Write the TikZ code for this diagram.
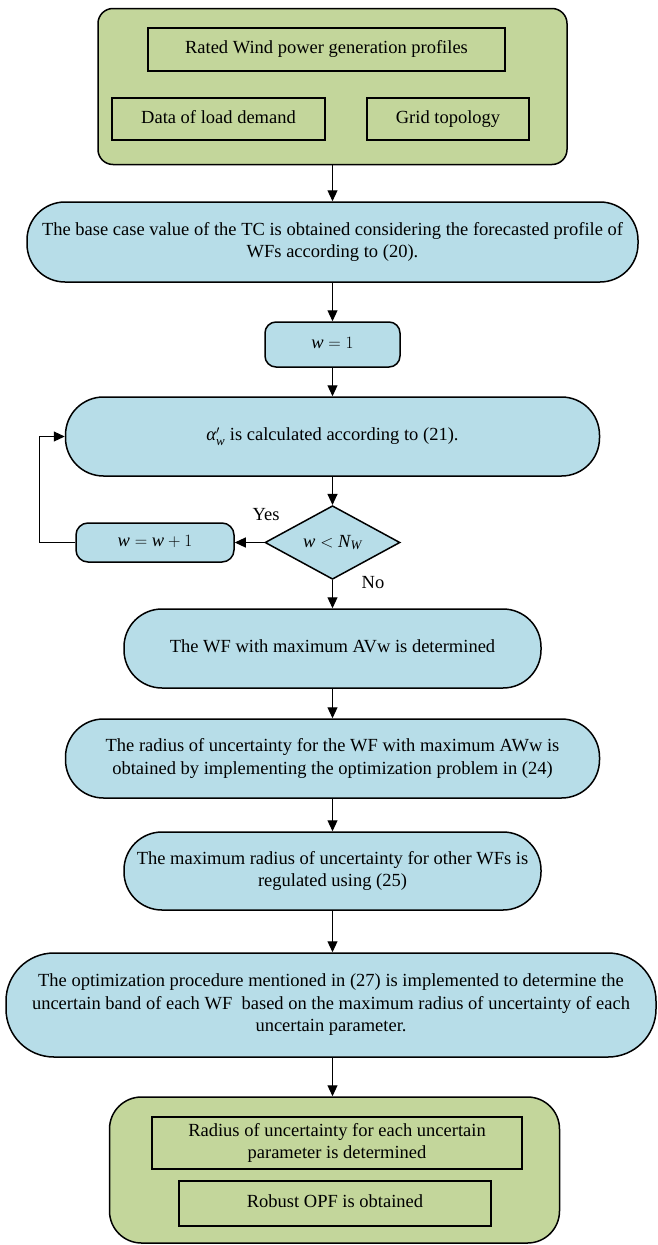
\documentclass[tikz,border=0pt]{standalone}
\usepackage{amsmath}
\usepackage{fontspec}
\setmainfont{Liberation Serif}
\usetikzlibrary{arrows.meta,shapes.geometric}
\definecolor{grn}{HTML}{C3D69B}
\definecolor{blu}{HTML}{B7DDE8}
\begin{document}
\begin{tikzpicture}[x=1pt,y=-1pt,
 every node/.style={font=\fontsize{18.5}{22.5}\selectfont},
 oneline/.style={text height=12.5pt, text depth=4pt},
 outerbox/.style={draw, line width=1.5pt, fill=grn, inner sep=0pt},
 innerbox/.style={draw, line width=1.2pt, align=center, inner sep=0pt},
 proc/.style={draw, line width=1.5pt, fill=blu, align=center, inner sep=0pt},
 arr/.style={line width=1.1pt, -{Triangle[length=11pt,width=10pt]}},
]
\useasboundingbox (0,0) rectangle (657,1245);
% top input block
\node[outerbox, rounded corners=15pt, minimum width=469pt, minimum height=156pt] (inp) at (332.5,86.5) {};
\node[innerbox, oneline, minimum width=357pt, minimum height=43pt] (rated) at (326.5,49.5) {Rated Wind power generation profiles};
\node[innerbox, oneline, minimum width=213pt, minimum height=42pt] (load) at (218.5,119) {Data of load demand};
\node[innerbox, oneline, minimum width=162pt, minimum height=42pt] (grid) at (448,119) {Grid topology};
% process boxes
\node[proc, rounded corners=38pt, minimum width=611pt, minimum height=80pt] (base) at (332.5,242) {The base case value of the TC is obtained considering the forecasted profile of\\WFs according to (20).};
\node[proc, oneline, rounded corners=11pt, minimum width=135pt, minimum height=45pt] (winit) at (332.5,344.5) {$\textit{w}=1$};
\node[proc, oneline, rounded corners=38pt, minimum width=534pt, minimum height=79pt] (alpha) at (332.5,436.5) {$\textit{α}'_{\textit{w}}$ is calculated according to (21).};
\node[proc, diamond, minimum width=135pt, minimum height=71pt] (dec) at (332.5,542.5) {$\textit{w}<\textit{N}_{\textit{W}}$};
\node[proc, oneline, rounded corners=12pt, minimum width=158pt, minimum height=39pt] (inc) at (155,542.5) {$\textit{w}=\textit{w}+1$};
\node[proc, oneline, rounded corners=38pt, minimum width=417pt, minimum height=79pt] (maxav) at (332.5,648.5) {The WF with maximum AVw is determined};
\node[proc, rounded corners=38pt, minimum width=534pt, minimum height=79pt] (radius) at (332.5,758.5) {The radius of uncertainty for the WF with maximum AWw is\\obtained by implementing the optimization problem in (24)};
\node[proc, rounded corners=38pt, minimum width=417pt, minimum height=78pt] (regul) at (332.5,871) {The maximum radius of uncertainty for other WFs is\\regulated using (25)};
\node[proc, rounded corners=48pt, minimum width=650pt, minimum height=104pt] (optim) at (331,1005) {The optimization procedure mentioned in (27) is implemented to determine the\\uncertain band of each WF\ \ based on the maximum radius of uncertainty of each\\uncertain parameter.};
% bottom output block
\node[outerbox, rounded corners=32pt, minimum width=450pt, minimum height=146pt] (outp) at (334.5,1170) {};
\node[innerbox, minimum width=370pt, minimum height=52pt] (res1) at (337,1143) {Radius of uncertainty for each uncertain\\parameter is determined};
\node[innerbox, oneline, minimum width=312pt, minimum height=45pt] (res2) at (335,1203.5) {Robust OPF is obtained};
% labels
\node (yes) at (266,515) {Yes};
\node (no) at (373,583) {No};
% connectors
\draw[arr] (inp.south) -- (base.north);
\draw[arr] (base.south) -- (winit.north);
\draw[arr] (winit.south) -- (alpha.north);
\draw[arr] (alpha.south) -- (dec.north);
\draw[arr] (dec.west) -- (inc.east);
\draw[arr] (inc.west) -- ++(-36,0) |- (alpha.west);
\draw[arr] (dec.south) -- (maxav.north);
\draw[arr] (maxav.south) -- (radius.north);
\draw[arr] (radius.south) -- (regul.north);
\draw[arr] (regul.south) -- (optim.north -| regul.south);
\draw[arr] (optim.south -| regul.south) -- (outp.north -| regul.south);
\end{tikzpicture}
\end{document}
